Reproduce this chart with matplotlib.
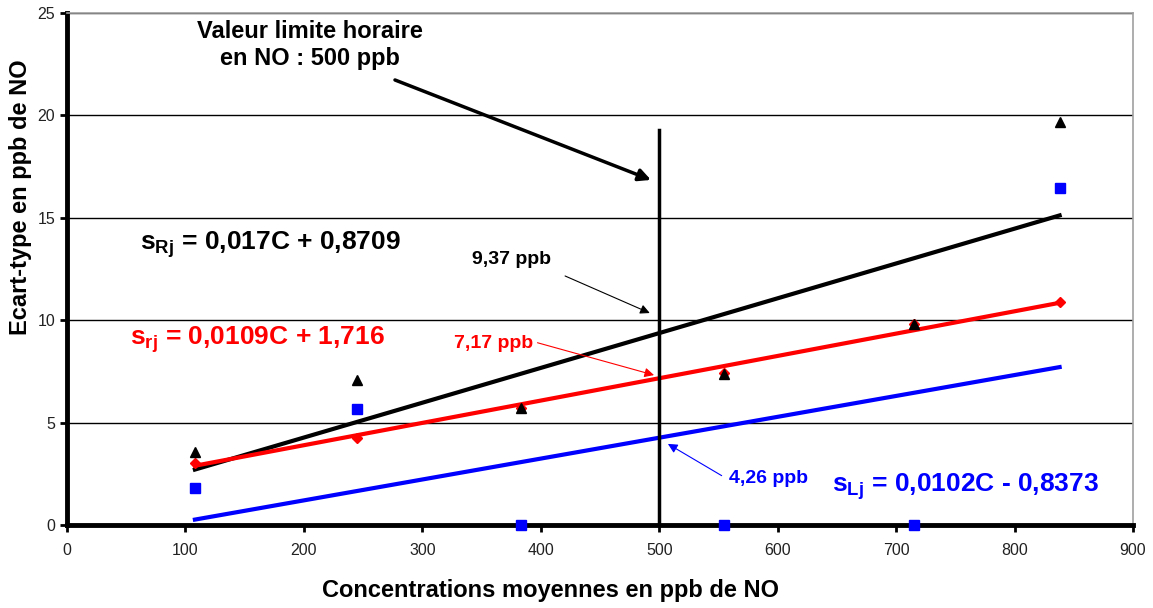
import matplotlib.pyplot as plt
import numpy as np

plt.rcParams['font.family'] = ['Liberation Sans', 'DejaVu Sans']
plt.rcParams['mathtext.fontset'] = 'custom'
plt.rcParams['mathtext.rm'] = 'Liberation Sans:bold'
plt.rcParams['mathtext.it'] = 'Liberation Sans:bold'
plt.rcParams['mathtext.bf'] = 'Liberation Sans:bold'

# Concentrations moyennes (ppb NO)
conc = [108, 245, 383, 555, 715, 838]
# ecarts-types
s_R = [3.56, 7.08, 5.71, 7.37, 9.81, 19.7]
s_r = [3.03, 4.25, 5.70, 7.40, 9.80, 10.9]
s_L = [1.81, 5.66, 0.0, 0.0, 0.0, 16.45]

# droites de regression (pente, ordonnee)
fit_R = (0.017, 0.8709)
fit_r = (0.0109, 1.716)
fit_L = (0.0102, -0.8373)
limite = 500

fig = plt.figure(figsize=(11.53, 6.08), dpi=100)
ax = fig.add_axes([0.0581, 0.1365, 0.9246, 0.8421])

xx = np.array([conc[0], conc[-1]])
ax.plot(xx, fit_R[0] * xx + fit_R[1], color='black', lw=3, zorder=3)
ax.plot(xx, fit_r[0] * xx + fit_r[1], color='red', lw=3, zorder=3)
ax.plot(xx, fit_L[0] * xx + fit_L[1], color='blue', lw=3, zorder=3)

ax.plot(conc, s_r, 'D', color='red', ms=5, ls='none', zorder=4, clip_on=False)
ax.plot(conc, s_L, 's', color='blue', ms=7, ls='none', zorder=4, clip_on=False)
ax.plot(conc, s_R, '^', color='black', ms=6.5, ls='none', zorder=5, clip_on=False)

ax.plot([limite, limite], [0, 19.3], color='black', lw=2.5, zorder=4)

ax.set_xlim(0, 900)
ax.set_ylim(0, 25)
ax.set_xticks(range(0, 901, 100))
ax.set_yticks(range(0, 26, 5))
ax.yaxis.grid(True, color='black', lw=1)
ax.set_axisbelow(True)
for side in ['top', 'right']:
    ax.spines[side].set_color('#a0a0a0')
    ax.spines[side].set_linewidth(1.2)
for side in ['left', 'bottom']:
    ax.spines[side].set_linewidth(3.5)
ax.tick_params(axis='both', labelsize=11.5, length=5, width=2, colors='black')
ax.tick_params(axis='x', pad=8)
for lab in ax.get_xticklabels() + ax.get_yticklabels():
    lab.set_color('#222222')

# titres des axes
fig.text(551 / 1153, 1 - 590 / 608, 'Concentrations moyennes en ppb de NO',
         ha='center', va='center', fontsize=17, fontweight='bold')
fig.text(21 / 1153, 1 - 197 / 608, 'Ecart-type en ppb de NO', rotation=90,
         ha='center', va='center', fontsize=17, fontweight='bold')

# fleche valeur limite
ax.text(205, 23.44, 'Valeur limite horaire\nen NO : 500 ppb', ha='center',
        va='center', fontsize=17, fontweight='bold', linespacing=1.2)
ax.annotate('', xy=(493, 16.85), xytext=(276.9, 21.73),
            arrowprops=dict(arrowstyle='-|>', color='black', lw=2.5,
                            mutation_scale=18, shrinkA=0, shrinkB=0))

ax.text(62, 13.7, r'$\mathrm{s_{Rj}}$ = 0,017C + 0,8709', fontsize=19,
        fontweight='bold', color='black', va='center')
ax.text(53, 9.03, r'$\mathrm{s_{rj}}$ = 0,0109C + 1,716', fontsize=19,
        fontweight='bold', color='red', va='center')
ax.text(646, 1.85, r'$\mathrm{s_{Lj}}$ = 0,0102C - 0,8373', fontsize=19,
        fontweight='bold', color='blue', va='center')

# valeurs a 500 ppb
ax.text(375, 12.94, '9,37 ppb', ha='center', va='center', fontsize=14,
        fontweight='bold', color='black')
ax.annotate('', xy=(492, 10.35), xytext=(420.5, 12.16),
            arrowprops=dict(arrowstyle='-|>', color='black', lw=0.8,
                            mutation_scale=14, shrinkA=0, shrinkB=0))
ax.text(360.5, 8.86, '7,17 ppb', ha='center', va='center', fontsize=14,
        fontweight='bold', color='red')
ax.annotate('', xy=(495.6, 7.32), xytext=(397.2, 8.9),
            arrowprops=dict(arrowstyle='-|>', color='red', lw=0.8,
                            mutation_scale=14, shrinkA=0, shrinkB=0))
ax.text(592, 2.25, '4,26 ppb', ha='center', va='center', fontsize=14,
        fontweight='bold', color='blue')
ax.annotate('', xy=(507.3, 3.96), xytext=(552.7, 2.41),
            arrowprops=dict(arrowstyle='-|>', color='blue', lw=0.8,
                            mutation_scale=14, shrinkA=0, shrinkB=0))

fig.savefig('out.png', dpi=100)
